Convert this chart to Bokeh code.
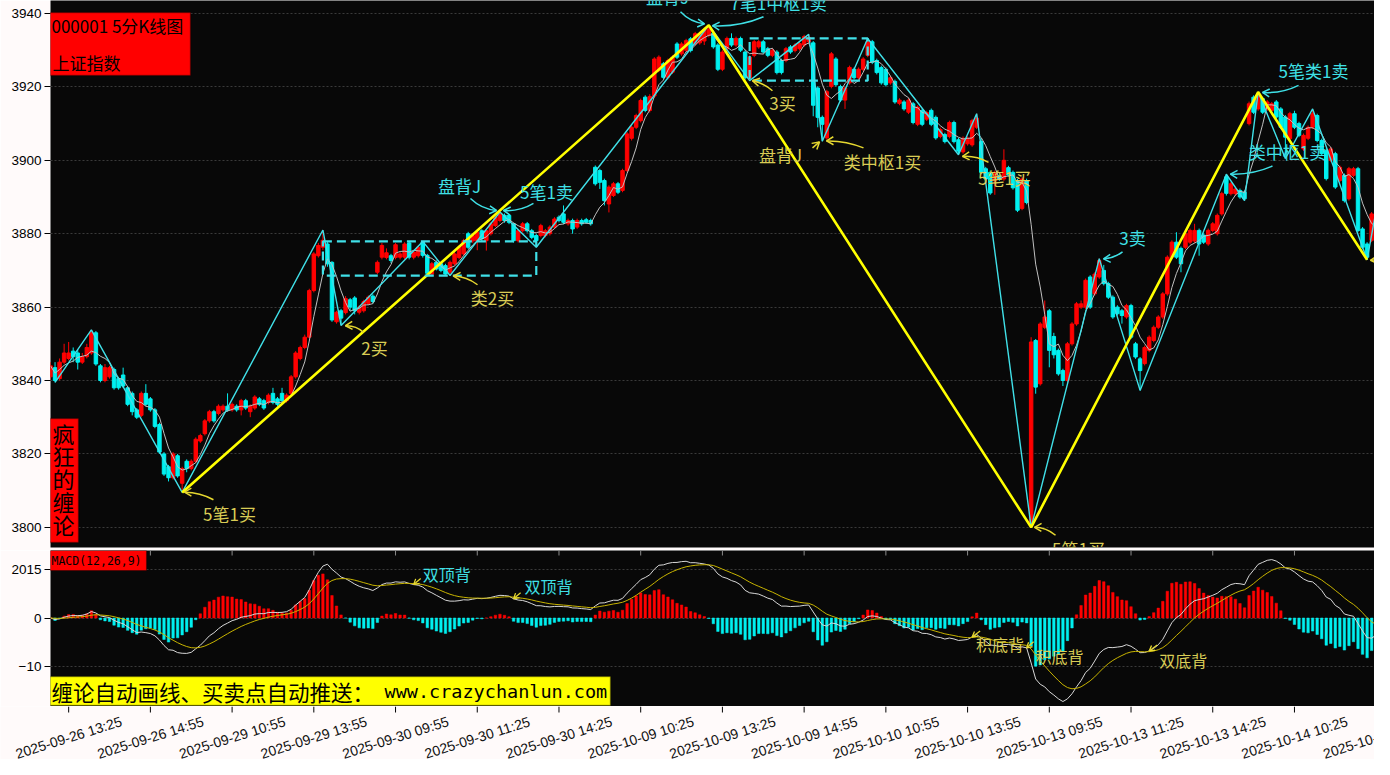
import math
import numpy as np
import pandas as pd
from bokeh.plotting import figure
from bokeh.layouts import column
from bokeh.models import Range1d, FixedTicker, Label, BoxAnnotation, ColumnDataSource
from bokeh.core.properties import value
from bokeh.embed import file_html
from bokeh.resources import INLINE

# ------------------------------------------------------------------ data
days = ["2025-09-26", "2025-09-29", "2025-09-30", "2025-10-09",
        "2025-10-10", "2025-10-13", "2025-10-14"]

O = [3841, 3843.5, 3840.5, 3845, 3846, 3848, 3847.5, 3845, 3846.5, 3847.5,
     3853, 3844, 3840, 3841, 3843, 3840.5, 3841.5, 3838, 3836.5, 3832,
     3830.5, 3836.5, 3835, 3832, 3828, 3820, 3816.5, 3813.5, 3819.5, 3812,
     3818, 3816, 3818, 3823.5, 3825.5, 3829, 3831.5, 3831, 3832, 3833,
     3832, 3833, 3832, 3834.5, 3831.5, 3832.5, 3835, 3834.5, 3834, 3836.5,
     3835, 3836.5, 3834.5, 3836.5, 3841, 3846, 3849, 3851.8, 3864.5, 3874,
     3876.3, 3877.2, 3872.2, 3856, 3859, 3858.5, 3862, 3862.5, 3858.6, 3859,
     3861, 3863, 3869.5, 3873.6, 3873.5, 3874, 3873.5, 3873.6, 3873.6, 3877.5,
     3873.6, 3874, 3877.7, 3874.1, 3869, 3872.2, 3871.8, 3871.3, 3869.5, 3871.8,
     3873.5, 3874.5, 3880, 3878, 3878.1, 3880.8, 3878.1, 3880, 3882.2, 3883.6,
     3885, 3885, 3882.7, 3878.1, 3880.8, 3882.7, 3880.8, 3879.5, 3879.5, 3879.5,
     3880, 3881.8, 3884.5, 3885.4, 3882.7, 3883.6, 3881.8, 3883.6, 3883.8, 3883.6,
     3898.1, 3897.2, 3894.5, 3888.1, 3890.4, 3893.6, 3891.8, 3897.2, 3906, 3909,
     3910.8, 3917.2, 3913.6, 3917.5, 3924.5, 3926.3, 3922.6, 3924, 3931.7, 3929,
     3930, 3933.1, 3931.7, 3932, 3932.5, 3934, 3934.6, 3931.4, 3924.8, 3930.4,
     3933.2, 3931.4, 3933.2, 3929.5, 3922.5, 3928.6, 3930.9, 3932.3, 3930.4, 3928.6,
     3929.5, 3927.2, 3927.2, 3930.9, 3929.9, 3930.4, 3931.4, 3932.3, 3932, 3919.7,
     3911.7, 3906.1, 3920.1, 3927.6, 3920.1, 3916.4, 3921.1, 3924.8, 3922.5, 3924.8,
     3928.6, 3932.3, 3927.2, 3925.3, 3924.8, 3921.1, 3921.5, 3915.5, 3915.9, 3913.1,
     3915.4, 3909.8, 3913.6, 3911.2, 3913.6, 3911.7, 3906.5, 3907, 3906.5, 3910.3,
     3905.6, 3902.3, 3904.5, 3904.2, 3909, 3905.1, 3897.7, 3896.7, 3894.4, 3895.8,
     3894.9, 3898, 3896.7, 3894.4, 3886.9, 3894.5, 3800.5, 3850.9, 3839.1, 3854.5,
     3859, 3852, 3848.2, 3842.7, 3840, 3850, 3855.4, 3860, 3860, 3868.2,
     3863.6, 3868.2, 3870, 3866.4, 3862.7, 3860, 3859, 3857.3, 3860.4, 3850,
     3845.9, 3844.6, 3848.2, 3850.9, 3854.5, 3857.3, 3863.6, 3873.6, 3877.7, 3876,
     3876.3, 3877.7, 3878, 3880.9, 3879.6, 3877.2, 3880.9, 3880, 3885.4, 3895.5,
     3890.9, 3890.9, 3891.8, 3891.3, 3910, 3917.2, 3914, 3916.8, 3914, 3913.6,
     3915.9, 3914, 3911.8, 3905.9, 3912.7, 3910, 3903.1, 3906, 3909, 3912.2,
     3905.4, 3902.7, 3900, 3901.8, 3894.5, 3895.9, 3889.5, 3895.9, 3897.7, 3881.3,
     3877.2, 3878.2, 3889, 3893.6, 3890.9, 3890.9]

H = [3845, 3845, 3846, 3850, 3850.5, 3849, 3848.5, 3847.5, 3850, 3853.8,
     3853.5, 3844.5, 3844.5, 3844, 3843.5, 3841, 3843.5, 3838.5, 3837, 3832.5,
     3837, 3839, 3835.5, 3832.5, 3828.5, 3820.5, 3817, 3820.5, 3820, 3816.5,
     3818.5, 3818.5, 3824.5, 3825.5, 3829.5, 3832, 3832, 3833.5, 3833.5, 3836.5,
     3834, 3833.5, 3835, 3835, 3833.5, 3836, 3835.5, 3835, 3836.5, 3838,
     3835.5, 3838, 3836.5, 3841.5, 3848, 3849.5, 3852.5, 3865, 3875, 3877.5,
     3881, 3878, 3872.5, 3859, 3859.5, 3863, 3862.5, 3863, 3860.5, 3862,
     3863.2, 3863.5, 3872.7, 3877.5, 3876, 3874.5, 3877.5, 3875, 3877.7, 3877.8,
     3875.5, 3876.8, 3877.9, 3874.5, 3872.3, 3872.7, 3872.2, 3871.8, 3872.7, 3875,
     3876.8, 3878.6, 3880.5, 3880, 3881, 3881.2, 3881.3, 3883.2, 3885, 3885.9,
     3885.5, 3885.4, 3883, 3881.3, 3883.2, 3883.2, 3881.3, 3880, 3882.7, 3881.3,
     3882.3, 3884.5, 3885, 3887.7, 3884.1, 3884.1, 3884.1, 3884.1, 3884.3, 3884.1,
     3898.6, 3897.7, 3895, 3893.2, 3894.1, 3894.1, 3897.7, 3907.7, 3909.5, 3912.7,
     3916.8, 3917.7, 3918, 3928.1, 3928.6, 3926.8, 3927.7, 3928.6, 3932.2, 3932.2,
     3933.1, 3933.6, 3935, 3935, 3936.2, 3936.8, 3935.1, 3931.9, 3930, 3933.7,
     3934.6, 3933.7, 3933.7, 3930, 3928.6, 3932.8, 3932.8, 3932.8, 3930.9, 3930.5,
     3930, 3927.7, 3930.9, 3931.4, 3931.9, 3932.3, 3934.2, 3934.3, 3932.5, 3920.2,
     3912.2, 3919.2, 3929.5, 3928.1, 3920.6, 3920.2, 3925.8, 3925.3, 3925.3, 3928.1,
     3933.2, 3932.8, 3927.7, 3925.8, 3925.3, 3923, 3922, 3916.9, 3916.4, 3916.9,
     3915.9, 3915, 3914.1, 3913.5, 3914.1, 3912.2, 3908.9, 3907.5, 3910.8, 3910.8,
     3906.1, 3906.5, 3906.5, 3911.3, 3912.7, 3906, 3898.2, 3897.2, 3897.2, 3896.3,
     3903, 3898.5, 3897.2, 3894.9, 3895.4, 3895, 3851.8, 3851.3, 3855.9, 3861.8,
     3859.5, 3853, 3848.7, 3843.2, 3850.5, 3855.9, 3861.4, 3861.8, 3867.8, 3868.7,
     3869.5, 3873.2, 3871.5, 3866.9, 3863.2, 3860.5, 3859.5, 3860.9, 3860.9, 3850.5,
     3846.4, 3849.5, 3852.3, 3855, 3857.8, 3864.1, 3874.1, 3878.2, 3880.4, 3876.5,
     3880.5, 3881.4, 3882.7, 3881.4, 3880.1, 3881.4, 3883.2, 3885.5, 3891.4, 3896.2,
     3894.1, 3892.7, 3892.3, 3891.8, 3916, 3917.7, 3918.6, 3917.3, 3916.4, 3915.9,
     3916.4, 3914.5, 3912.3, 3913.2, 3913.5, 3910.5, 3907.3, 3909.5, 3914, 3912.7,
     3905.9, 3903.2, 3903.6, 3902.3, 3898.6, 3896.4, 3898.2, 3898.2, 3898.2, 3881.8,
     3877.7, 3885.9, 3894.1, 3894.1, 3900, 3891.4]

L = [3840, 3839.5, 3840, 3844.5, 3845.5, 3845, 3843, 3844.5, 3846, 3847,
     3844, 3839.5, 3839.5, 3840.5, 3837.5, 3837.5, 3838, 3833, 3830.5, 3829.5,
     3830, 3833, 3831.5, 3827, 3820, 3814, 3812.5, 3813, 3813.5, 3809.5,
     3815, 3815.5, 3817.5, 3823, 3825, 3828.5, 3828.5, 3830.5, 3831.5, 3831.5,
     3831.5, 3831.5, 3830.5, 3832, 3830, 3832, 3833, 3832, 3833.5, 3833.5,
     3833, 3834, 3834, 3836, 3840.5, 3845.5, 3848.5, 3851.5, 3864, 3873.5,
     3875.5, 3871, 3856, 3855.5, 3855, 3858, 3859, 3858, 3858, 3858.5,
     3860.5, 3861, 3869, 3873, 3873, 3872, 3873, 3873, 3873, 3873,
     3873, 3873.5, 3873.5, 3868.9, 3868.8, 3870, 3869.5, 3868.8, 3868.6, 3871.3,
     3873, 3874, 3875.8, 3877.5, 3875.5, 3878, 3875.4, 3879.5, 3881.8, 3883.1,
     3883, 3882.6, 3877.6, 3877.6, 3880.3, 3880.3, 3878.5, 3876.3, 3879, 3879,
     3879.5, 3881.3, 3883.1, 3882.6, 3882.2, 3880, 3881.3, 3882.2, 3882.7, 3882.2,
     3893.1, 3892.2, 3887.7, 3885.8, 3890, 3890.8, 3891.3, 3896.7, 3905.4, 3908.5,
     3910.3, 3913.1, 3913, 3917, 3924, 3922.1, 3922.1, 3923.5, 3927.6, 3928.5,
     3929.5, 3929.4, 3931.2, 3931.5, 3931.4, 3933.5, 3930.4, 3924.3, 3924.3, 3929.9,
     3930.9, 3930.9, 3929.5, 3922, 3921.7, 3928.1, 3930.4, 3929, 3928.1, 3928.1,
     3923.4, 3923.4, 3926.7, 3929, 3929.4, 3929.9, 3930.9, 3931.8, 3912, 3909,
     3905.2, 3905.6, 3919.6, 3920.1, 3915.9, 3914, 3920.6, 3922, 3922, 3924.3,
     3928.1, 3926.2, 3923.4, 3920.6, 3920.1, 3920.6, 3915.4, 3915, 3913.5, 3912.6,
     3909.8, 3909.3, 3909.3, 3910.7, 3909.3, 3905.6, 3906, 3904.6, 3906, 3904.6,
     3901.5, 3901.8, 3904, 3903.7, 3908.5, 3896.2, 3894.4, 3890.6, 3890.6, 3894.4,
     3894.4, 3895.5, 3892, 3885.9, 3886.4, 3888, 3800, 3836.4, 3838.6, 3854,
     3843.6, 3846, 3841.3, 3838.5, 3839.5, 3849.5, 3854.9, 3859.5, 3859.5, 3859.5,
     3863.1, 3867.7, 3865.9, 3862.2, 3856.8, 3857.7, 3855.5, 3856.8, 3851.3, 3845.9,
     3837.3, 3844.1, 3847.7, 3850.4, 3854, 3856.8, 3863.1, 3873.1, 3873.1, 3869.5,
     3875.8, 3877.2, 3877.5, 3874, 3877.2, 3876.7, 3880.4, 3879.5, 3884.9, 3890.4,
     3890.4, 3890.4, 3889.5, 3889, 3909.5, 3912.6, 3913.5, 3912.6, 3913.5, 3913.1,
     3911.3, 3908.5, 3900.5, 3905.4, 3908.5, 3906.3, 3902.6, 3905.5, 3908.5, 3904.9,
     3901.3, 3894.5, 3899.5, 3892.2, 3894, 3888.5, 3889, 3895.4, 3880.4, 3875.8,
     3872.9, 3877.7, 3888.5, 3890.4, 3890.4, 3882.2]

C = [3844, 3840, 3845, 3847.5, 3847.5, 3846.5, 3845, 3846.5, 3849, 3853,
     3844.5, 3840, 3843.5, 3843.5, 3838, 3838, 3838.5, 3833.5, 3831.5, 3830,
     3836.5, 3833.5, 3832, 3827.5, 3820.5, 3814.5, 3813.5, 3820, 3814, 3816,
     3816, 3818, 3824, 3825, 3829, 3831.5, 3829, 3833, 3833, 3832,
     3833.5, 3832, 3834.5, 3832.5, 3833, 3835.5, 3833.5, 3832.5, 3836, 3834,
     3833.5, 3834.5, 3836, 3841, 3847.5, 3849, 3851.8, 3864.5, 3874.5, 3876.8,
     3878.2, 3871.8, 3856.5, 3858.6, 3857, 3862.3, 3860, 3859, 3860, 3861.5,
     3862.7, 3861.5, 3872.2, 3876.8, 3874.8, 3872.7, 3877, 3874.5, 3877.2, 3873.6,
     3875, 3876.3, 3874.1, 3869.2, 3871.8, 3870.4, 3870, 3869, 3872.2, 3874.5,
     3876.3, 3878.1, 3876.3, 3879.5, 3880.4, 3878.6, 3880.8, 3882.7, 3884.5, 3885.4,
     3883.6, 3883.1, 3878.1, 3880.8, 3882.7, 3880.8, 3879, 3878.1, 3882.2, 3880.8,
     3881.8, 3884, 3883.6, 3883.1, 3883.6, 3881.3, 3883.6, 3882.7, 3883.1, 3882.7,
     3893.6, 3894, 3889, 3892.7, 3893.6, 3891.3, 3897.2, 3907.2, 3909, 3912.2,
     3916.3, 3913.6, 3917.4, 3927.6, 3928.1, 3922.6, 3927.2, 3928.1, 3928.1, 3931.7,
     3932.6, 3929.9, 3934.5, 3934.5, 3935.6, 3935.8, 3930.9, 3924.8, 3929.5, 3933.2,
     3931.4, 3933.2, 3930, 3922.5, 3928.1, 3932.3, 3932.3, 3929.5, 3928.6, 3930,
     3923.9, 3923.9, 3930.4, 3929.5, 3931.4, 3931.8, 3933.7, 3933.5, 3915, 3911.7,
     3909.8, 3918.7, 3929, 3920.6, 3916.4, 3919.7, 3925.3, 3922.5, 3924.8, 3927.6,
     3932.3, 3926.7, 3923.9, 3921.1, 3920.6, 3922.5, 3915.9, 3916.4, 3914, 3916.4,
     3910.3, 3914.5, 3909.8, 3913, 3909.8, 3906.1, 3908.4, 3905.1, 3910.3, 3905.1,
     3902.5, 3906, 3906, 3910.8, 3911.5, 3896.7, 3894.9, 3891.1, 3896.7, 3894.9,
     3900, 3896, 3892.5, 3886.4, 3894.9, 3888.5, 3850.5, 3838.2, 3855.4, 3857.3,
     3848.2, 3847, 3841.8, 3840, 3850, 3855.4, 3860.9, 3860.9, 3867.3, 3860,
     3869, 3872.7, 3866.4, 3862.7, 3857.3, 3858.2, 3857.7, 3860.4, 3851.8, 3846.4,
     3842.7, 3849, 3851.8, 3854.5, 3857.3, 3863.6, 3873.6, 3877.7, 3873.6, 3871.8,
     3880, 3880.9, 3880.9, 3877.2, 3877.7, 3880.9, 3882.7, 3885, 3890.9, 3891,
     3893.6, 3892.2, 3890, 3889.5, 3915.4, 3913.1, 3918, 3913.1, 3915.9, 3915.4,
     3911.8, 3909, 3906.3, 3912.7, 3909, 3906.8, 3906.8, 3909, 3912.7, 3905.4,
     3901.8, 3895, 3903.1, 3892.7, 3898.1, 3889, 3897.7, 3897.7, 3880.9, 3876.3,
     3873.6, 3885.4, 3893.6, 3890.9, 3895, 3882.7]

# pen (bi) turning points: bar index, alternating low / high (first is a low)
pen_idx = [1, 9, 29, 60, 64, 82, 88, 99, 107, 145, 154, 167, 170, 180,
           200, 204, 216, 231, 240, 259, 263, 266, 272, 278, 290, 294]
# segment (xianduan) turning points: low / high alternating
seg_idx = [29, 145, 216, 266, 290]
# centres (zhongshu)
zs_start = [60, 154]
zs_end = [107, 180]
zs_low = [3868.6, 3921.7]
zs_high = [3877.9, 3933.2]

tick_labels = ["2025-09-26 13:25", "2025-09-26 14:55", "2025-09-29 10:55",
               "2025-09-29 13:55", "2025-09-30 09:55", "2025-09-30 11:25",
               "2025-09-30 14:25", "2025-10-09 10:25", "2025-10-09 13:25",
               "2025-10-09 14:55", "2025-10-10 10:55", "2025-10-10 13:55",
               "2025-10-13 09:55", "2025-10-13 11:25", "2025-10-13 14:25",
               "2025-10-14 10:25", "2025-10-14 13:25"]
price_ticks = [3800, 3820, 3840, 3860, 3880, 3900, 3920, 3940]
macd_ticks = [-10, 0, 10]

# annotations: text, colour key, pivot bar, text offset px, arrow tail px, arrow tip px, bend px
ann_main = [
    ("盘背J", "c", 99, (-40.5, -26.6), (-29.5, -13.6), (-3.5, -1.6), 5),
    ("5笔1卖", "c", 99, (46.5, -20.6), (33.5, -8.6), (3.5, -1.6), -5),
    ("类2买", "y", 88, (42.5, 22.2), (27.5, 9.2), (3.5, 0.5), 4),
    ("2买", "y", 64, (33.4, 21.9), (22.4, 6.9), (4.4, 0.3), 4),
    ("5笔1买", "y", 29, (47.3, 21.3), (31.3, 7.3), (2.3, -0.3), 4),
    ("盘背J", "c", 145, (-41.3, -28.5), (-28.3, -13.5), (-4.3, -1.5), 5),
    ("7笔1中枢1卖", "c", 145, (69.7, -22.5), (54.7, -8.5), (3.7, 0.5), -6),
    ("3买", "y", 154, (32.8, 22.1), (22.8, 10.1), (2.8, 0.1), 3),
    ("盘背J", "y", 170, (-41.8, 13.7), (-9.8, 6.7), (-2.8, 0.7), 0),
    ("类中枢1买", "y", 170, (60.2, 20.7), (41.2, 6.7), (4.2, -0.3), 4),
    ("5笔1买", "y", 200, (46.0, 22.6), (30.0, 7.6), (4.0, 1.6), 4),
    ("5笔1买", "y", 216, (47.4, 21.0), (24.4, 8.0), (3.4, 0.0), 4),
    ("3卖", "c", 231, (33.3, -20.8), (23.3, -6.8), (4.3, 0.2), -3),
    ("类中枢1卖", "c", 259, (61.1, -23.2), (46.1, -8.2), (4.1, -0.2), -5),
    ("5笔类1卖", "c", 266, (55.4, -21.6), (40.4, -6.6), (4.4, 0.4), -5),
    ("5笔1买", "y", 290, (46.4, 23.5), (23.4, 4.5), (3.4, 0.5), 3),
]
ann_macd = [
    ("双顶背", "c", 80, (33, -11), (7, -6)),
    ("双顶背", "c", 102, (35, -13), (7, -6)),
    ("积底背", "y", 203, (28, 7), (8, -6)),
    ("积底背", "y", 215, (33, 8), (7, -6)),
    ("双底背", "y", 242, (34, 9), (8, -6)),
]

# ------------------------------------------------------------------ styles / geometry
RED, CYN = "#FF0000", "#00F0F0"
PEN, SEG = "#40E0E8", "#FFFF00"
CYAN_T, YEL_T, YEL_A = "#3FE0E6", "#D9CC55", "#E6D830"
BG, OUT, GRID = "#080808", "#FFFAFA", "#3A3A3A"
CJK = "Noto Sans CJK SC"
W = 1374

SX, SY1, SY2 = 4.54, 3.67, 4.83          # px per bar / per point / per MACD unit


def px_x(i): return 50 + i * SX
def px_y1(p): return 13 + (3940 - p) * SY1
def px_y2(v): return 617.5 - v * SY2
def dx(px): return (px - 50) / SX
def dy1(py): return 3940 - (py - 13) / SY1
def dy2(py): return (617.5 - py) / SY2
def dy3(py): return 706 - py


n = min(len(O), len(H), len(L), len(C))
o, h, l, c = (np.array(a[:n], dtype=float) for a in (O, H, L, C))
idx = np.arange(n)

def hhmm(t): return "%02d:%02d" % (t // 60, t % 60)
am = [hhmm(t) for t in range(575, 691, 5)]
pm = [hhmm(t) for t in range(785, 901, 5)]
times = [days[0] + " " + s for s in pm] + [d + " " + s for d in days[1:] for s in am + pm]
tick_pos = [times.index(t) for t in tick_labels]

def ema(x, k):
    a = 2.0 / (k + 1)
    out = np.empty(len(x))
    out[0] = x[0]
    for j in range(1, len(x)):
        out[j] = a * x[j] + (1 - a) * out[j - 1]
    return out

dif = ema(c, 12) - ema(c, 26)
dea = ema(dif, 9)
hist = 2 * (dif - dea)
ma5 = pd.Series(c).rolling(5, min_periods=1).mean().values

pen_y = [L[k] if j % 2 == 0 else H[k] for j, k in enumerate(pen_idx)]
seg_y = [L[k] if j % 2 == 0 else H[k] for j, k in enumerate(seg_idx)]
piv = dict(zip(pen_idx, pen_y))

xr = Range1d(dx(50), dx(W))


def style_yaxis(p, ticks):
    p.yaxis.ticker = FixedTicker(ticks=ticks)
    p.yaxis.axis_line_color = None
    p.yaxis.major_tick_line_color = "black"
    p.yaxis.major_tick_out = 6
    p.yaxis.major_tick_in = 0
    p.yaxis.minor_tick_line_color = None
    p.yaxis.major_label_text_font = "Liberation Sans"
    p.yaxis.major_label_text_font_size = "13.5px"
    p.yaxis.major_label_text_color = "black"
    p.yaxis.major_label_standoff = 3
    p.ygrid.ticker = FixedTicker(ticks=ticks)
    p.ygrid.grid_line_color = GRID
    p.ygrid.grid_line_dash = "2 2"
    p.xgrid.visible = False
    p.background_fill_color = BG
    p.border_fill_color = OUT
    p.outline_line_color = None


def arrow(fig, tail, tip, bend, color, X, Y, head=8, width=1.5):
    (tx, ty), (hx, hy) = tail, tip
    ddx, ddy = hx - tx, hy - ty
    ln = math.hypot(ddx, ddy) or 1.0
    cx = (tx + hx) / 2 - bend * ddy / ln
    cy = (ty + hy) / 2 + bend * ddx / ln
    ux, uy = hx - cx, hy - cy
    ul = math.hypot(ux, uy) or 1.0
    ux, uy = ux / ul, uy / ul
    pts = []
    for s in (1, -1):
        a = math.radians(30) * s
        rx = ux * math.cos(a) - uy * math.sin(a)
        ry = ux * math.sin(a) + uy * math.cos(a)
        pts.append((hx - head * rx, hy - head * ry))
    fig.quadratic(x0=[X(tx)], y0=[Y(ty)], x1=[X(hx)], y1=[Y(hy)], cx=[X(cx)], cy=[Y(cy)],
                  line_color=color, line_width=width)
    fig.multi_line(xs=[[X(pts[0][0]), X(hx), X(pts[1][0])]],
                   ys=[[Y(pts[0][1]), Y(hy), Y(pts[1][1])]],
                   line_color=color, line_width=width)


# ------------------------------------------------------------------ main panel
p1 = figure(width=W, height=550, x_range=xr,
            y_range=Range1d(dy1(547), dy1(0)),
            output_backend="svg", toolbar_location=None, x_axis_location=None,
            min_border_left=50, min_border_right=0, min_border_top=0, min_border_bottom=3)
style_yaxis(p1, price_ticks)

cols = [RED if c[j] >= o[j] else CYN for j in range(n)]
src = ColumnDataSource(dict(x=idx, h=h, l=l, top=np.maximum(o, c), bot=np.minimum(o, c), col=cols))
p1.segment(x0="x", y0="l", x1="x", y1="h", line_color="col", line_width=1, source=src)
p1.vbar(x="x", width=0.76, top="top", bottom="bot", fill_color="col", line_color="col",
        line_width=1, source=src)
p1.line(idx, ma5, line_color="#C0C0C0", line_width=1)

p1.line(pen_idx, pen_y, line_color=PEN, line_width=1.4)
p1.line(seg_idx, seg_y, line_color=SEG, line_width=2.6)
p1.quad(left=zs_start, right=zs_end, bottom=zs_low, top=zs_high, fill_color=None,
        line_color=PEN, line_width=2.2, line_dash="9 5")

for text, ck, k, toff, aoff, hoff, bend in ann_main:
    bx, by = px_x(k), px_y1(piv[k])
    tc = CYAN_T if ck == "c" else YEL_T
    ac = CYAN_T if ck == "c" else YEL_A
    p1.text(x=[dx(bx + toff[0])], y=[dy1(by + toff[1])], text=[text], text_color=tc,
            text_font=value(CJK), text_font_size="17px", text_align="center",
            text_baseline="middle")
    arrow(p1, (bx + aoff[0], by + aoff[1]), (bx + hoff[0], by + hoff[1]), bend, ac, dx, dy1)

p1.add_layout(BoxAnnotation(left=dx(45), right=dx(190), top=dy1(12), bottom=dy1(75),
                            fill_color="#FF0000", fill_alpha=1.0, line_color="black", line_width=1.5))
p1.add_layout(Label(x=dx(51), y=dy1(25), text="000001 5分K线图", text_font=CJK,
                    text_font_size="17px", text_color="black", text_baseline="middle"))
p1.add_layout(Label(x=dx(52), y=dy1(62), text="上证指数", text_font=CJK,
                    text_font_size="17px", text_color="black", text_baseline="middle"))
p1.add_layout(BoxAnnotation(left=dx(45), right=dx(78), top=dy1(418), bottom=dy1(542),
                            fill_color="#FF0000", fill_alpha=1.0, line_color="black", line_width=1.5))
for j, ch in enumerate("疯狂的缠论"):
    p1.add_layout(Label(x=dx(63), y=dy1(432 + j * 22.8), text=ch, text_font=CJK,
                        text_font_size="22px", text_color="black", text_align="center",
                        text_baseline="middle"))

# ------------------------------------------------------------------ MACD panel
p2 = figure(width=W, height=156, x_range=xr,
            y_range=Range1d(dy2(706), dy2(550)),
            output_backend="svg", toolbar_location=None, x_axis_location=None,
            min_border_left=50, min_border_right=0, min_border_top=0, min_border_bottom=0)
style_yaxis(p2, macd_ticks)
p2.yaxis.major_label_overrides = {10: "2015"}

hcol = [RED if v >= 0 else CYN for v in hist]
p2.vbar(x=idx, width=0.55, top=hist, bottom=0, fill_color=hcol, line_color=hcol, line_width=0.5)
p2.line(idx, dif, line_color="#D8D8D8", line_width=1)
p2.line(idx, dea, line_color="#C8B400", line_width=1)
p2.segment(x0=tick_pos, y0=[dy2(550)] * len(tick_pos), x1=tick_pos, y1=[dy2(555)] * len(tick_pos),
           line_color="#8A8A8A", line_width=1)

for text, ck, k, toff, aoff in ann_macd:
    bx, by = px_x(k), px_y2(dif[k])
    tc = CYAN_T if ck == "c" else YEL_T
    p2.text(x=[dx(bx + toff[0])], y=[dy2(by + toff[1])], text=[text], text_color=tc,
            text_font=value(CJK), text_font_size="16px", text_align="center",
            text_baseline="middle")
    arrow(p2, (bx + aoff[0], by + aoff[1]), (bx, by), 0, YEL_A, dx, dy2, head=6, width=1.3)

p2.add_layout(BoxAnnotation(left=dx(45), right=dx(146), top=dy2(550), bottom=dy2(570),
                            fill_color="#FF0000", fill_alpha=1.0, line_color="black", line_width=1.2))
p2.add_layout(Label(x=dx(51), y=dy2(560), text="MACD(12,26,9)", text_font="DejaVu Sans Mono",
                    text_font_size="11.5px", text_color="black", text_baseline="middle"))
p2.add_layout(BoxAnnotation(left=dx(44), right=dx(610), top=dy2(676), bottom=dy2(705),
                            fill_color="#FFFF00", fill_alpha=1.0, line_color="black", line_width=1.5))
p2.add_layout(Label(x=dx(51), y=dy2(691), text="缠论自动画线、买卖点自动推送：", text_font=CJK,
                    text_font_size="21.5px", text_color="black", text_baseline="middle"))
p2.add_layout(Label(x=dx(384), y=dy2(691), text="www.crazychanlun.com", text_font="DejaVu Sans Mono",
                    text_font_size="18.5px", text_color="black", text_baseline="middle"))

# ------------------------------------------------------------------ time axis strip
p3 = figure(width=W, height=53, x_range=Range1d(dx(0), dx(W)), y_range=Range1d(dy3(759), dy3(706)),
            output_backend="svg", toolbar_location=None, x_axis_location=None, y_axis_location=None,
            min_border_left=0, min_border_right=0, min_border_top=0, min_border_bottom=0)
try:
    p3.frame_align = False
except Exception:
    pass
p3.background_fill_color = OUT
p3.border_fill_color = OUT
p3.outline_line_color = None
p3.xgrid.visible = False
p3.ygrid.visible = False
p3.segment(x0=tick_pos, y0=[dy3(706)] * len(tick_pos), x1=tick_pos, y1=[dy3(712)] * len(tick_pos),
           line_color="black", line_width=1)
p3.text(x=tick_pos, y=[dy3(737)] * len(tick_pos), text=tick_labels, angle=math.radians(17.5),
        text_align="center", text_baseline="middle", text_font=value("Liberation Sans"),
        text_font_size="14px", text_color="#111111")

layout = column(p1, p2, p3, spacing=0)
open("out.html", "w").write(file_html(layout, INLINE))
